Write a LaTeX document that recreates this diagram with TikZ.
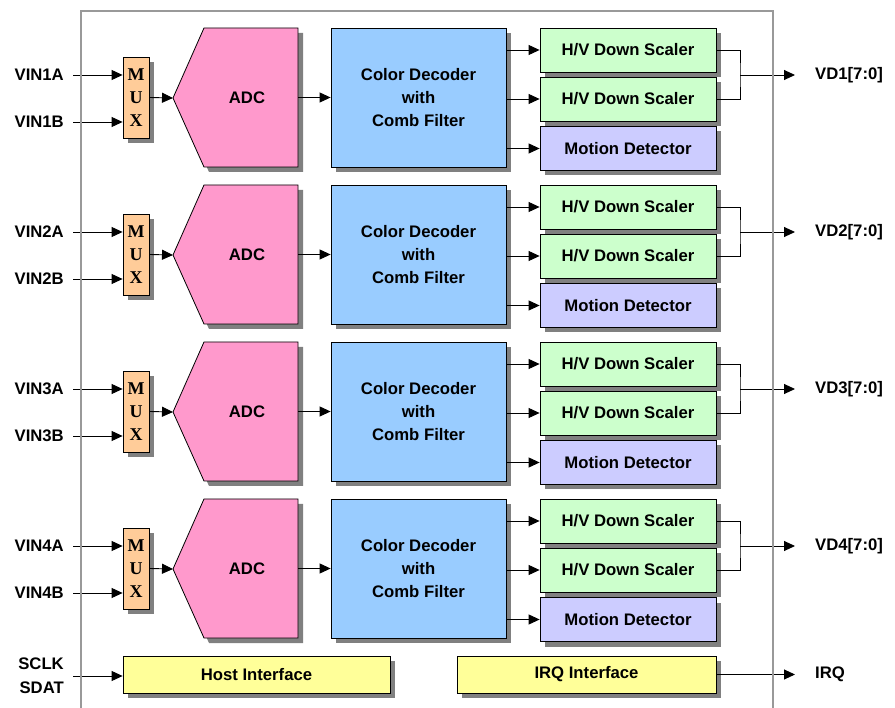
\documentclass[tikz,border=0pt]{standalone}
\usepackage{fontspec}
\setmainfont{Liberation Sans}
\newfontfamily\muxfont{Liberation Serif}
\usetikzlibrary{arrows.meta,shadows,positioning}

\definecolor{muxorange}{HTML}{FFCC99}
\definecolor{adcpink}{HTML}{FF99CC}
\definecolor{decblue}{HTML}{99CCFF}
\definecolor{scalergreen}{HTML}{CCFFCC}
\definecolor{motionblue}{HTML}{CCCCFF}
\definecolor{hostyellow}{HTML}{FFFF99}
\definecolor{framegray}{HTML}{999999}
\definecolor{shadowgray}{HTML}{808080}

\tikzset{
  blk/.style={draw=black,line width=0.8pt,inner sep=0pt,
    drop shadow={shadow xshift=5pt,shadow yshift=-5pt,fill=shadowgray,opacity=1},
    font=\bfseries\fontsize{16.7}{19}\selectfont},
  muxbox/.style={blk,fill=muxorange,minimum width=26pt,minimum height=81pt,align=center,
    font=\muxfont\bfseries\fontsize{18}{23}\selectfont},
  decbox/.style={blk,fill=decblue,minimum width=175pt,minimum height=139pt,align=center,
    font=\bfseries\fontsize{16.7}{23}\selectfont},
  scalerbox/.style={blk,fill=scalergreen,minimum width=176pt,minimum height=44pt},
  motionbox/.style={blk,fill=motionblue,minimum width=176pt,minimum height=44pt},
  ifbox/.style={blk,fill=hostyellow,minimum height=37pt},
  sig/.style={inner sep=0pt,font=\bfseries\fontsize{16.7}{24}\selectfont},
  wire/.style={line width=0.9pt}
}

\begin{document}
\begin{tikzpicture}[x=1pt,y=-1pt,>={Triangle[length=11pt,width=10pt]}]
  \useasboundingbox (0,0) rectangle (895,708);

  \foreach \r/\dy in {1/0,2/157,3/314,4/471}{
    \begin{scope}[yshift=-\dy pt]
      \node[muxbox] (mux\r) at (136,97.5) {M\\U\\X};
      \filldraw[blk,fill=adcpink] (173,98) -- (204,28) -- (298,28) -- (298,167) -- (204,167) -- cycle; % ADC outline
      \node[sig,minimum width=102pt,minimum height=139pt] (adc\r) at (247,97.5) {ADC};
      \coordinate (adctip\r) at (173,98);
      \node[decbox] (dec\r) at (418.5,97.5) {Color Decoder\\with\\Comb Filter};
      \node[scalerbox] (sa\r) at (628,50) {H/V Down Scaler};
      \node[scalerbox] (sb\r) at (628,99) {H/V Down Scaler};
      \node[motionbox] (md\r) at (628,148.5) {Motion Detector};
      \node[sig,anchor=east] (vina\r) at (64,75) {VIN\r A};
      \node[sig,anchor=east] (vinb\r) at (64,122) {VIN\r B};
      \coordinate (join\r) at (740,75);
      \coordinate (vdo\r) at (795,75);
      \node[sig,right=20pt of vdo\r] (vd\r) {VD\r[7:0]};

      \draw[wire,->] ([xshift=9pt]vina\r.east) -- (vina\r.east -| mux\r.west);
      \draw[wire,->] ([xshift=9pt]vinb\r.east) -- (vinb\r.east -| mux\r.west);
      \draw[wire,->] (mux\r.east) -- (adctip\r);
      \draw[wire,->] (adc\r.east) -- (dec\r.west);
      \draw[wire,->] (dec\r.east |- sa\r.west) -- (sa\r.west);
      \draw[wire,->] (dec\r.east |- sb\r.west) -- (sb\r.west);
      \draw[wire,->] (dec\r.east |- md\r.west) -- (md\r.west);
      \draw[wire] (sa\r.east) -| (join\r) |- (sb\r.east); % merge of both scalers
      \draw[wire,->] (join\r) -- (vdo\r);
    \end{scope}
  }

  % host side
  \node[ifbox,minimum width=267pt] (host) at (256.5,674.5) {Host Interface};
  \node[ifbox,minimum width=259pt] (irqif) at (586.5,674.5) {IRQ Interface};
  \node[sig,anchor=east,align=right] (serial) at (64,676) {SCLK\\SDAT};
  \coordinate (irqo) at (795,674.5);
  \node[sig,right=20pt of irqo] (irq) {IRQ};
  \draw[wire,->] ([xshift=9pt]serial.east) -- (serial.east -| host.west);
  \draw[wire,->] (irqif.east) -- (irqo);

  \draw[framegray,line width=2pt] (81,712) -- (81,11) -- (773,11) -- (773,712); % chip outline
\end{tikzpicture}
\end{document}
